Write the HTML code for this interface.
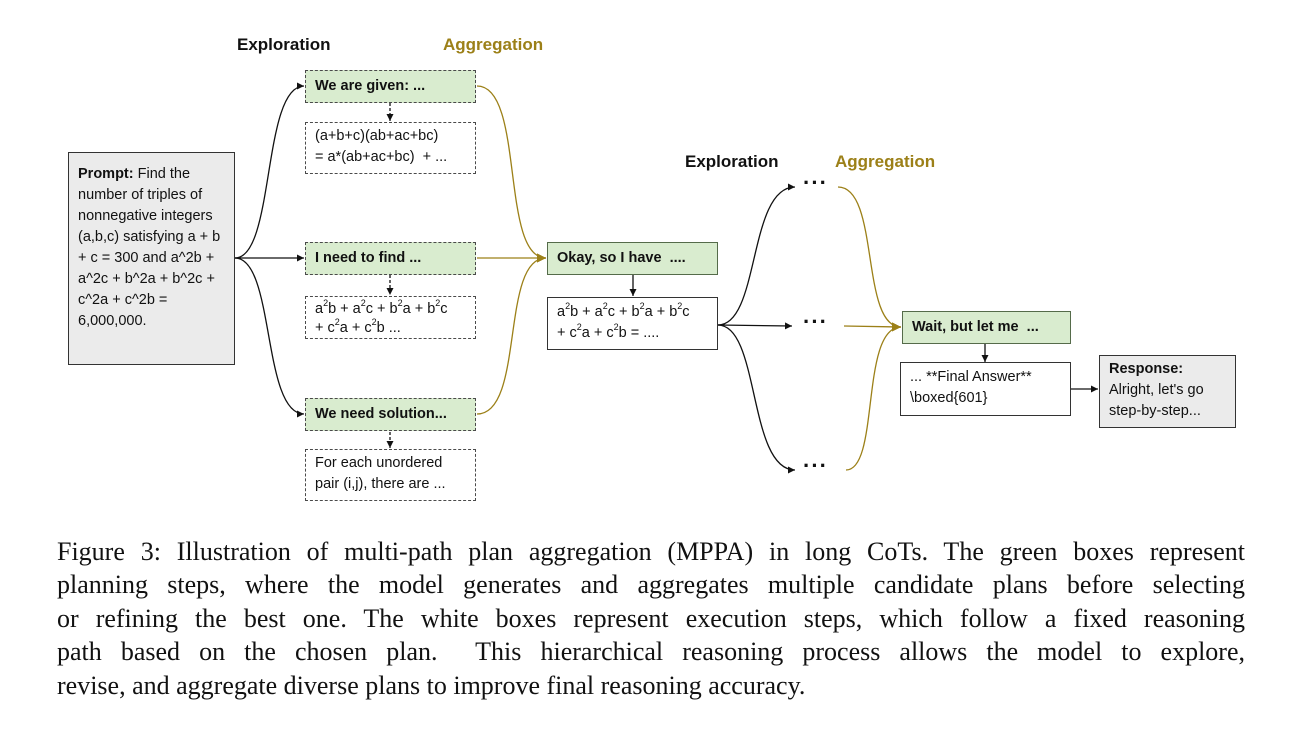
<!DOCTYPE html>
<html><head><meta charset="utf-8"><style>
body{margin:0;width:1299px;height:733px;background:#fff;position:relative;overflow:hidden;font-family:"Liberation Sans",sans-serif;color:#111}
.b{position:absolute;box-sizing:border-box;font-size:14.5px;line-height:21px;padding:0 9px}
.g{background:#d9eccf;border:1.3px dashed #4a4a4a;font-weight:bold;display:flex;align-items:center}
.gs{background:#d9eccf;border:1.5px solid #556b4a;font-weight:bold;display:flex;align-items:center}
.d{background:#fff;border:1.3px dashed #4a4a4a;padding-top:3px}
.w{background:#fff;border:1.5px solid #333;padding-top:4px}
.h{position:absolute;font-weight:bold;font-size:17px}
.cap{position:absolute;left:57px;width:1188px;font-family:"Liberation Serif",serif;font-size:26px;text-align:justify;text-align-last:justify;white-space:nowrap}
.dots{position:absolute;font-weight:bold;font-size:22px;letter-spacing:1px}
sup{font-size:9px;vertical-align:7px;line-height:0}
</style></head><body>
<svg width="1299" height="733" style="position:absolute;left:0;top:0">
<defs>
<marker id="a" markerWidth="8" markerHeight="8" refX="7" refY="4" orient="auto" markerUnits="userSpaceOnUse"><path d="M0,0.5 L7,4 L0,7.5z" fill="#111"/></marker>
<marker id="ag" markerWidth="10" markerHeight="10" refX="9" refY="5" orient="auto" markerUnits="userSpaceOnUse"><path d="M0,0.5 L9,5 L0,9.5z" fill="#9c8018"/></marker>
</defs>
<g fill="none" stroke="#111" stroke-width="1.3">
<path d="M235,258 C275,258 262,86 304,86" marker-end="url(#a)"/>
<path d="M235,258 L304,258" marker-end="url(#a)"/>
<path d="M235,258 C275,258 262,414 304,414" marker-end="url(#a)"/>
<path d="M390,103 L390,121" stroke-dasharray="3,2" marker-end="url(#a)"/>
<path d="M390,275 L390,295" stroke-dasharray="3,2" marker-end="url(#a)"/>
<path d="M390,432 L390,448" stroke-dasharray="3,2" marker-end="url(#a)"/>
<path d="M633,275 L633,296" marker-end="url(#a)"/>
<path d="M718,325 C760,325 748,187 795,187" marker-end="url(#a)"/>
<path d="M718,325 L792,326" marker-end="url(#a)"/>
<path d="M718,325 C760,325 748,470 795,470" marker-end="url(#a)"/>
<path d="M985,343 L985,362" marker-end="url(#a)"/>
<path d="M1071,389 L1098,389" marker-end="url(#a)"/>
</g>
<g fill="none" stroke="#9c8018" stroke-width="1.3">
<path d="M477,86 C525,86 500,258 546,258" marker-end="url(#ag)"/>
<path d="M477,258 L546,258" marker-end="url(#ag)"/>
<path d="M477,414 C525,414 500,258 546,258" marker-end="url(#ag)"/>
<path d="M838,187 C880,187 860,327 901,327" marker-end="url(#ag)"/>
<path d="M844,326 L901,327" marker-end="url(#ag)"/>
<path d="M846,470 C880,470 860,327 901,327" marker-end="url(#ag)"/>
</g>
</svg>
<div class="h" style="left:237px;top:35px">Exploration</div>
<div class="h" style="left:443px;top:35px;color:#9c8018">Aggregation</div>
<div class="h" style="left:685px;top:152px">Exploration</div>
<div class="h" style="left:835px;top:152px;color:#9c8018">Aggregation</div>

<div class="b" style="left:68px;top:152px;width:167px;height:213px;background:#ebebeb;border:1.5px solid #333;padding-top:11px"><b>Prompt:</b> Find the number of triples of nonnegative integers (a,b,c) satisfying a + b + c = 300 and a^2b + a^2c + b^2a + b^2c + c^2a + c^2b = 6,000,000.</div>

<div class="b g" style="left:305px;top:70px;width:171px;height:33px">We are given: ...</div>
<div class="b d" style="left:305px;top:122px;width:171px;height:52px">(a+b+c)(ab+ac+bc)<br>= a*(ab+ac+bc)&nbsp; + ...</div>
<div class="b g" style="left:305px;top:242px;width:171px;height:33px">I need to find ...</div>
<div class="b d" style="left:305px;top:296px;width:171px;height:43px;line-height:19px">a<sup>2</sup>b + a<sup>2</sup>c + b<sup>2</sup>a + b<sup>2</sup>c<br>+ c<sup>2</sup>a + c<sup>2</sup>b ...</div>
<div class="b g" style="left:305px;top:398px;width:171px;height:33px">We need solution...</div>
<div class="b d" style="left:305px;top:449px;width:171px;height:52px">For each unordered pair (i,j), there are ...</div>

<div class="b gs" style="left:547px;top:242px;width:171px;height:33px">Okay, so I have&nbsp; ....</div>
<div class="b w" style="left:547px;top:297px;width:171px;height:53px">a<sup>2</sup>b + a<sup>2</sup>c + b<sup>2</sup>a + b<sup>2</sup>c<br>+ c<sup>2</sup>a + c<sup>2</sup>b = ....</div>

<div class="dots" style="left:803px;top:170px">···</div>
<div class="dots" style="left:803px;top:309px">···</div>
<div class="dots" style="left:803px;top:453px">···</div>

<div class="b gs" style="left:902px;top:311px;width:169px;height:33px">Wait, but let me&nbsp; ...</div>
<div class="b w" style="left:900px;top:362px;width:171px;height:54px">... **Final Answer**<br>\boxed{601}</div>
<div class="b" style="left:1099px;top:355px;width:137px;height:73px;background:#ebebeb;border:1.5px solid #333;padding-top:3px"><b>Response:</b><br>Alright, let's go step-by-step...</div>

<div class="cap" style="top:537px">Figure 3: Illustration of multi-path plan aggregation (MPPA) in long CoTs. The green boxes represent</div>
<div class="cap" style="top:570px">planning steps, where the model generates and aggregates multiple candidate plans before selecting</div>
<div class="cap" style="top:604px">or refining the best one. The white boxes represent execution steps, which follow a fixed reasoning</div>
<div class="cap" style="top:637px">path based on the chosen plan.&nbsp; This hierarchical reasoning process allows the model to explore,</div>
<div class="cap" style="top:671px;text-align-last:left">revise, and aggregate diverse plans to improve final reasoning accuracy.</div>
</body></html>
